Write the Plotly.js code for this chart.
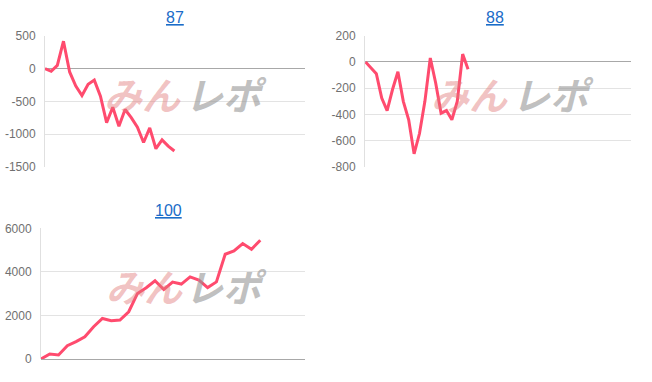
<!DOCTYPE html>
<html>
<head>
<meta charset="utf-8">
<script src="https://cdn.plot.ly/plotly-3.0.1.min.js"></script>
<style>
html,body{margin:0;padding:0;background:#fff;}
#chart{width:652px;height:382px;}
</style>
</head>
<body>
<div id="chart"></div>
<script>
// ---- data ----
const titles = ["87", "88", "100"];
const values87 = [0, -40, 50, 420, -50, -265, -410, -240, -175, -420, -825, -590, -880, -625, -750, -895, -1130, -905, -1225, -1090, -1185, -1260];
const values88 = [0, -45, -90, -275, -370, -210, -75, -300, -440, -700, -545, -300, 30, -160, -390, -370, -440, -300, 60, -55];
const values100 = [0, 230, 185, 610, 795, 1020, 1480, 1860, 1760, 1790, 2170, 3010, 3270, 3590, 3190, 3530, 3440, 3770, 3620, 3280, 3540, 4810, 4960, 5300, 5040, 5450];
const yTicks87 = [500, 0, -500, -1000, -1500];
const yTicks88 = [200, 0, -200, -400, -600, -800];
const yTicks100 = [6000, 4000, 2000, 0];
const watermark = ["みん", "レポ"];

// ---- layout helpers ----
const W = 652, H = 382;
const px = v => v / W;
const py = v => 1 - v / H;
const lineColor = '#ff4b6e';

function trace(vals, xa, ya) {
  return {
    x: vals.map((_, i) => i), y: vals, xaxis: xa, yaxis: ya,
    type: 'scatter', mode: 'lines',
    line: {color: lineColor, width: 3, shape: 'linear'},
    hoverinfo: 'skip', showlegend: false
  };
}

function xax(domain, range) {
  return {domain: domain, range: range, showgrid: false, zeroline: false,
          showticklabels: false, showline: false, ticks: '', fixedrange: true};
}
function yax(domain, ticks, anchor) {
  return {domain: domain, range: [Math.min(...ticks), Math.max(...ticks)],
          tickvals: ticks, ticktext: ticks.map(String),
          showgrid: true, gridcolor: '#e3e3e3', gridwidth: 1,
          zeroline: true, zerolinecolor: '#a8a8a8', zerolinewidth: 1,
          showline: true, linecolor: '#e0e0e0', linewidth: 1,
          ticks: '', ticklabelstandoff: 6,
          tickfont: {family: 'Liberation Sans, Arial, sans-serif', size: 12, color: '#707070'},
          anchor: anchor, fixedrange: true};
}

const data = [
  trace(values87, 'x', 'y'),
  trace(values88, 'x2', 'y2'),
  trace(values100, 'x3', 'y3')
];

const annotations = [];
function title(text, cx, cy) {
  annotations.push({text: '<u>' + text + '</u>', xref: 'paper', yref: 'paper',
    x: px(cx), y: py(cy), xanchor: 'center', yanchor: 'middle', showarrow: false,
    font: {family: 'Liberation Sans, Arial, sans-serif', size: 16, color: '#1a6cc8'}});
}
title(titles[0], 175, 17);
title(titles[1], 495, 17);
title(titles[2], 168, 210);

function mark(cx1, cx2, cy) {
  annotations.push({text: watermark[0], xref: 'paper', yref: 'paper',
    x: px(cx1), y: py(cy), xanchor: 'center', yanchor: 'middle', showarrow: false,
    font: {family: 'Noto Sans CJK JP', size: 38, color: 'rgba(225,120,120,0.45)', weight: 'bold', style: 'italic'}});
  annotations.push({text: watermark[1], xref: 'paper', yref: 'paper',
    x: px(cx2), y: py(cy), xanchor: 'center', yanchor: 'middle', showarrow: false,
    font: {family: 'Noto Sans CJK JP', size: 38, color: 'rgba(150,150,150,0.6)', weight: 'bold', style: 'italic'}});
}
mark(142, 226, 93);
mark(470, 553, 93);
mark(144, 226, 285);

const layout = {
  width: W, height: H,
  margin: {l: 0, r: 0, t: 0, b: 0},
  paper_bgcolor: '#ffffff', plot_bgcolor: '#ffffff',
  showlegend: false,
  xaxis: xax([px(45), px(305)], [0, 42.2]),
  yaxis: yax([py(166.7), py(36)], yTicks87, 'x'),
  xaxis2: xax([px(365), px(631)], [-0.1, 49.2]),
  yaxis2: yax([py(167), py(35.7)], yTicks88, 'x2'),
  xaxis3: xax([px(41), px(305)], [0, 30.1]),
  yaxis3: yax([py(359), py(228.3)], yTicks100, 'x3'),
  annotations: annotations
};

Plotly.newPlot('chart', data, layout, {staticPlot: true, displayModeBar: false});
</script>
</body>
</html>
